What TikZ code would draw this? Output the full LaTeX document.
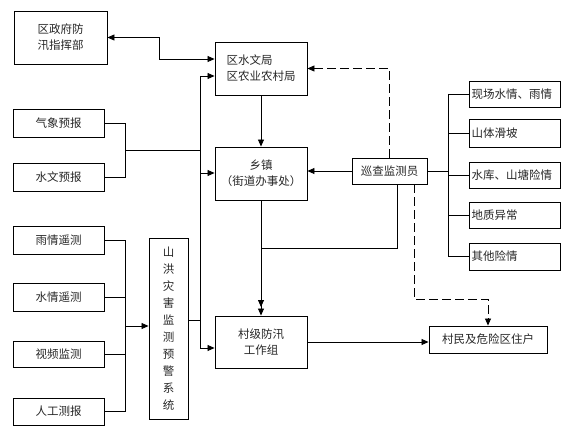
\documentclass[tikz,border=0pt]{standalone}
\usepackage{fontspec}
\newfontfamily\cjk{Noto Sans CJK SC}
\usetikzlibrary{arrows.meta,calc}
\begin{document}
\begin{tikzpicture}[x=1pt,y=-1pt,
  box/.style={draw,line width=0.9pt,inner sep=0pt,font=\cjk\fontsize{11.5}{16}\selectfont,text=black!85},
  arr/.style={-{Triangle[length=7pt,width=6pt]}},
  ln/.style={line width=0.8pt},
  dsh/.style={dash pattern=on 9pt off 4pt}]
\useasboundingbox (0,0) rectangle (567,433);
% nodes
\node[box,minimum width=93,minimum height=53,align=center] (qzf) at (60.5,37.5) {区政府防\\汛指挥部};
\node[box,minimum width=92,minimum height=53,align=left] (swj) at (261,68.5) {区水文局\\区农业农村局};
\node[box,minimum width=91,minimum height=28] (qx) at (58.5,123) {气象预报};
\node[box,minimum width=91,minimum height=28] (sw) at (58.5,177) {水文预报};
\node[box,minimum width=92,minimum height=53,align=center] (xz) at (261,173.5) {乡镇\\（街道办事处）};
\node[box,minimum width=75,minimum height=26] (xc) at (389.5,171) {巡查监测员};
\node[box,minimum width=91,minimum height=26,text width=86,align=left] (r1) at (514.5,94) {现场水情、雨情};
\node[box,minimum width=91,minimum height=28,text width=86,align=left] (r2) at (514.5,133) {山体滑坡};
\node[box,minimum width=91,minimum height=26,text width=86,align=left] (r3) at (514.5,175) {水库、山塘险情};
\node[box,minimum width=91,minimum height=26,text width=86,align=left] (r4) at (514.5,215) {地质异常};
\node[box,minimum width=91,minimum height=27,text width=86,align=left] (r5) at (514.5,256.5) {其他险情};
\node[box,minimum width=91,minimum height=28] (yq) at (58.5,240) {雨情遥测};
\node[box,minimum width=91,minimum height=28] (sq) at (58.5,297) {水情遥测};
\node[box,minimum width=91,minimum height=26] (sp) at (58.5,354) {视频监测};
\node[box,minimum width=91,minimum height=27] (rg) at (58.5,411.5) {人工测报};
\node[box,minimum width=39,minimum height=181,align=center,font=\cjk\fontsize{11.5}{17}\selectfont] (sh) at (168.5,328.5) {山\\洪\\灾\\害\\监\\测\\预\\警\\系\\统};
\node[box,minimum width=92,minimum height=52,align=center] (cj) at (261,342) {村级防汛\\工作组};
\node[box,minimum width=118,minimum height=27] (cm) at (488,339.5) {村民及危险区住户};
% coordinates
\coordinate (l59) at (0,59);
\coordinate (jA) at (125,150);
\coordinate (b150) at (200,150);
\coordinate (bTop) at (200,76);
\coordinate (b173) at (200,173);
\coordinate (bBot) at (200,348);
\coordinate (b320) at (200,320);
\coordinate (jB) at (125,326);
\coordinate (c248) at (261,248);
\coordinate (c307) at (261,307);
\coordinate (l299) at (0,299);
\coordinate (rb) at (448,171);
\coordinate (rbT) at (448,94);
\coordinate (rbB) at (448,256.5);
% connectors
\draw[ln,{Triangle[length=7pt,width=6pt]}-{Triangle[length=7pt,width=6pt]}] (qzf.east) -- ++(52,0) |- (swj.west |- l59);
\draw[ln] (qx.east) -| (jA);
\draw[ln] (sw.east) -| (jA);
\draw[ln] (jA) -- (b150);
\draw[ln] (bTop) -- (bBot);
\draw[ln,arr] (bTop) -- (swj.west |- bTop);
\draw[ln,arr] (b173) -- (xz.west |- b173);
\draw[ln,arr] (bBot) -- (cj.west |- bBot);
\draw[ln] (sh.east |- b320) -- (b320);
\draw[ln,arr] (swj.south) -- (xz.north);
\draw[ln,arr] (xz.south) -- (cj.north);
\draw[ln,arr] ([xshift=7.5]xc.south) |- (c248) -- (c307);
\draw[ln,dsh,arr] (xc.north) |- (swj.east);
\draw[ln,arr] (xc.west) -- (xz.east |- xc.west);
\draw[ln,dsh,arr] ([xshift=24.5]xc.south) |- (l299 -| cm.north) -- (cm.north);
\draw[ln,arr] (cj.east) -- (cm.west |- cj.east);
\draw[ln] (xc.east) -- (rb);
\draw[ln] (rbT) -- (rbB);
\draw[ln] (rbT) -- (r1.west);
\draw[ln] (rbT |- r2.west) -- (r2.west);
\draw[ln] (rbT |- r3.west) -- (r3.west);
\draw[ln] (rbT |- r4.west) -- (r4.west);
\draw[ln] (rbB) -- (r5.west);
\draw[ln] (yq.east) -| (jB);
\draw[ln] (sq.east) -| (jB);
\draw[ln] (sp.east) -| (jB);
\draw[ln] (rg.east) -| (jB);
\draw[ln,arr] (jB) -- (sh.west |- jB);
\end{tikzpicture}
\end{document}
